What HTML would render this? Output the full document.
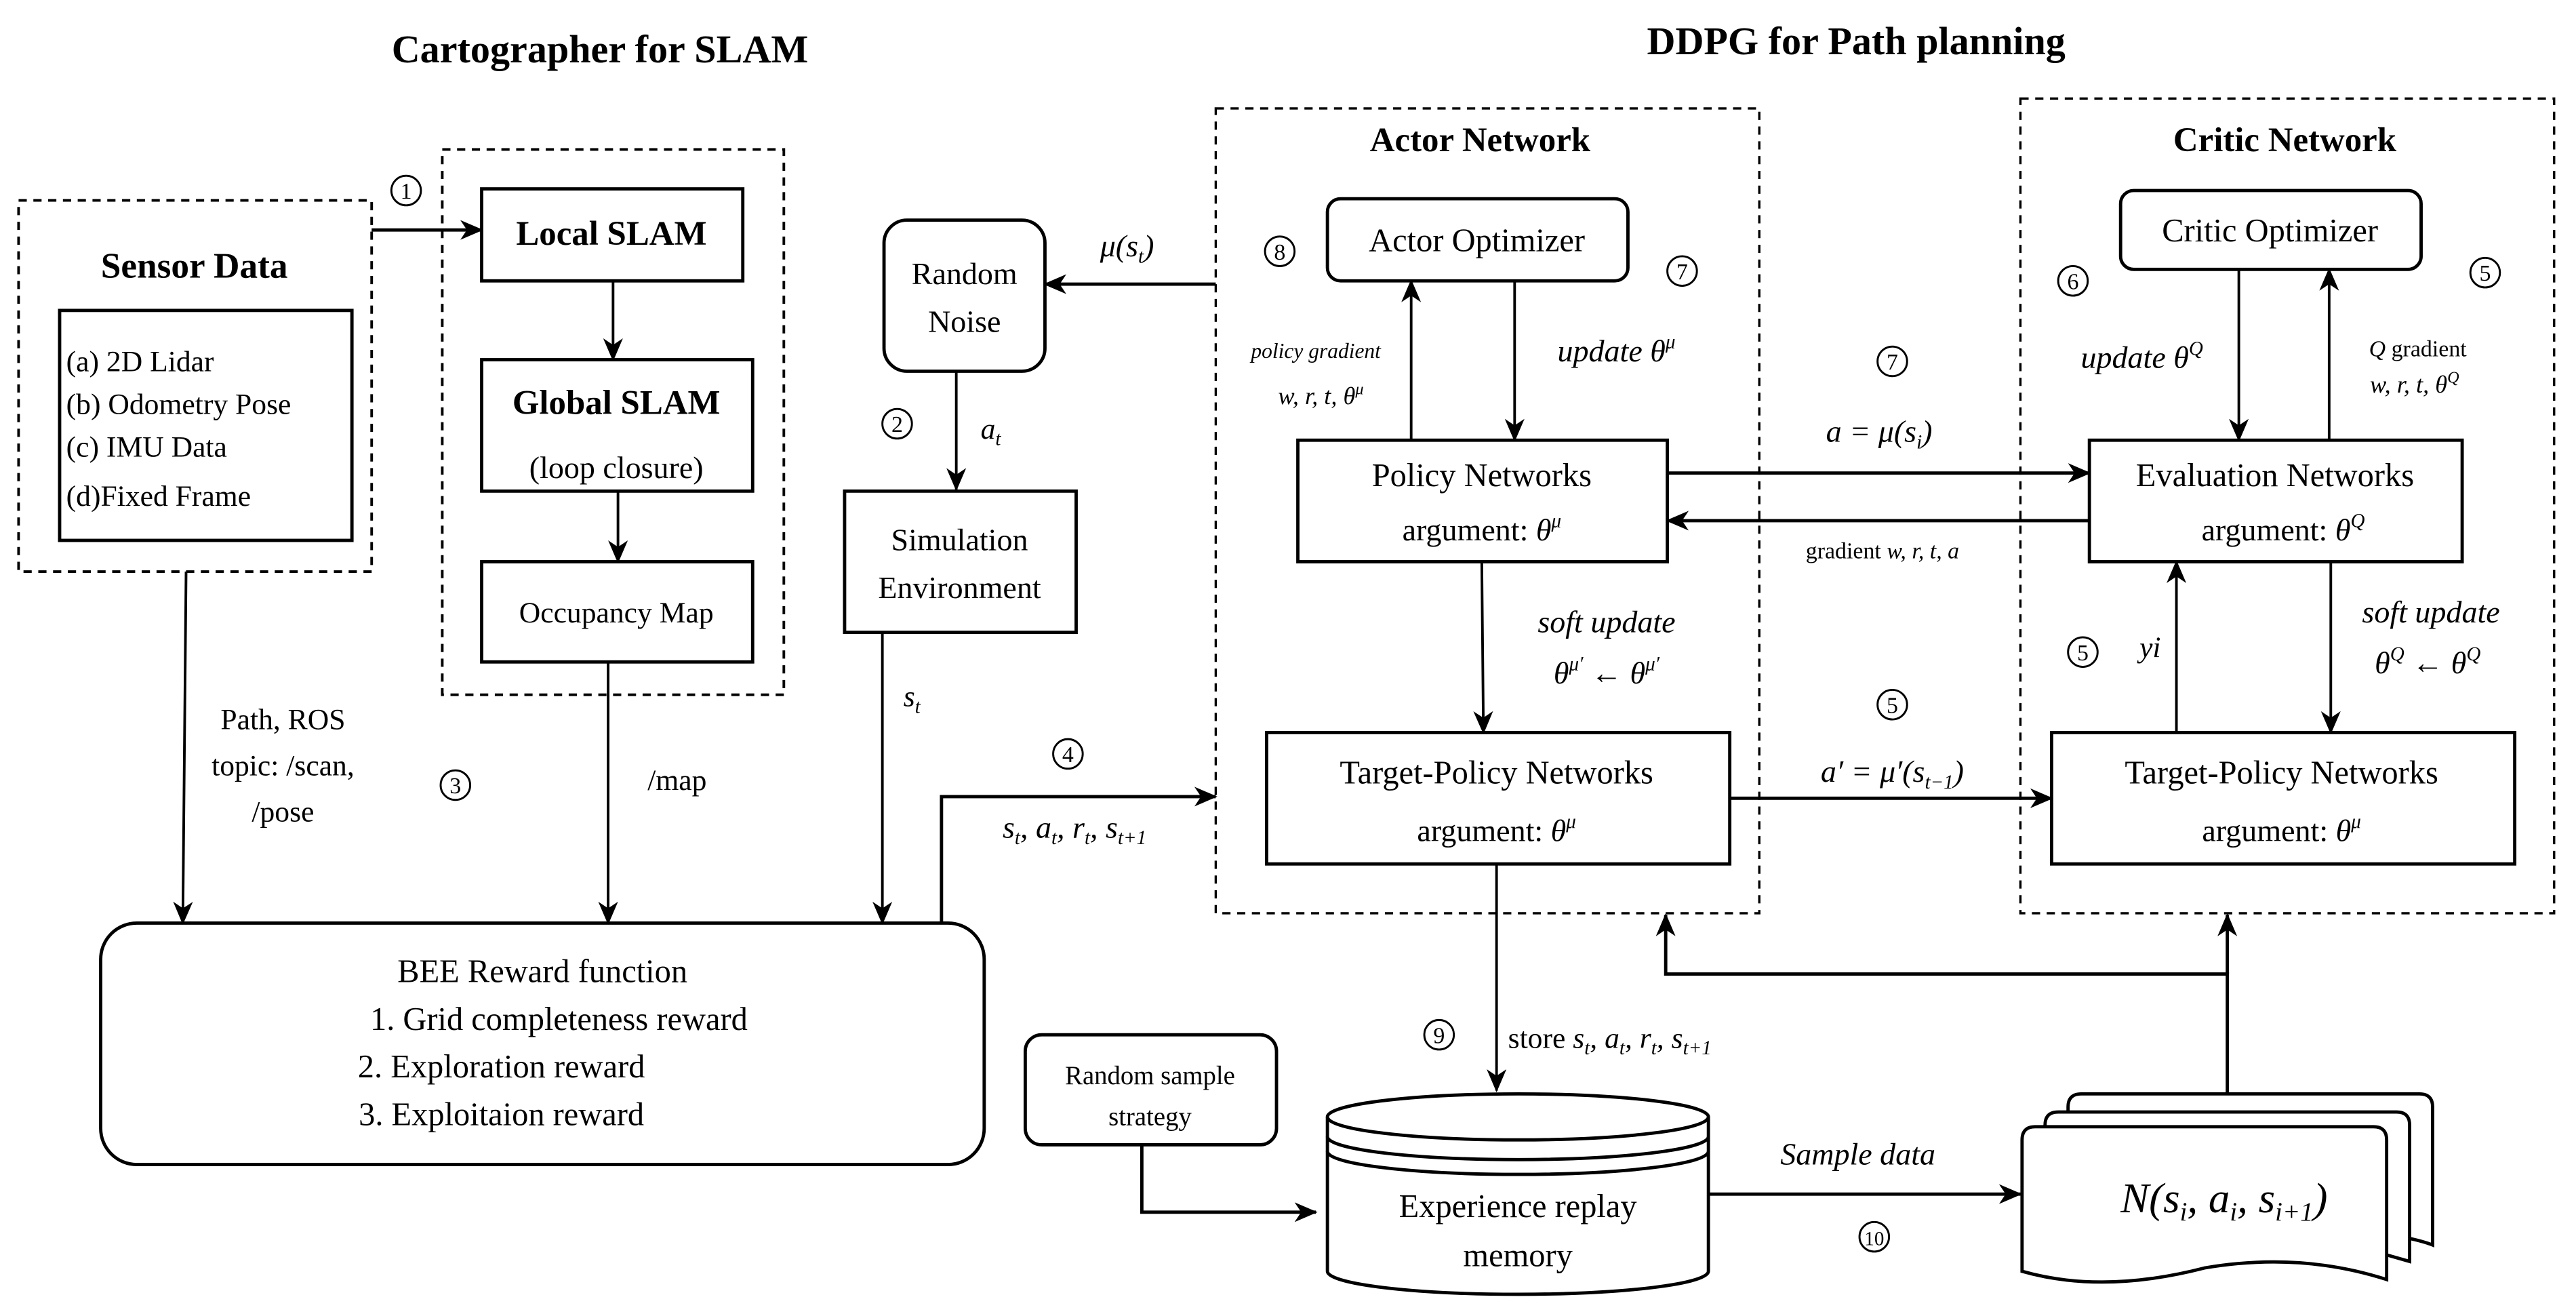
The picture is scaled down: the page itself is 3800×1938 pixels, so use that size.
<!DOCTYPE html>
<html><head><meta charset="utf-8"><style>
html,body{margin:0;padding:0;background:#fff}
svg{display:block}
svg, svg text, svg tspan{font-family:"Liberation Serif","DejaVu Serif",serif !important}
text{fill:#000}
.b{font-weight:bold}
.i{font-style:italic}
</style></head><body>
<svg width="3800" height="1938" viewBox="0 0 1568 800" xmlns="http://www.w3.org/2000/svg" font-family="Liberation Serif, serif">
<defs>
<marker id="ah" markerWidth="14" markerHeight="12" refX="13" refY="6" orient="auto" markerUnits="userSpaceOnUse">
<path d="M0,0 L14,6 L0,12 L4,6 z" fill="#000"/>
</marker>
</defs>
<rect width="1568" height="800" fill="#fff"/>
<g fill="none" stroke="#000">
<rect x="11" y="122" width="215" height="226" stroke-width="1.6" stroke-dasharray="5,4"/>
<rect x="269" y="91" width="208" height="332" stroke-width="1.6" stroke-dasharray="5,4"/>
<rect x="740" y="66" width="331" height="490" stroke-width="1.4" stroke-dasharray="5,4"/>
<rect x="1230" y="60" width="325" height="496" stroke-width="1.4" stroke-dasharray="5,4"/>
<rect x="36" y="189" width="178" height="140" stroke-width="2"/>
<rect x="293" y="115" width="159" height="56" stroke-width="2"/>
<rect x="293" y="219" width="165" height="80" stroke-width="2"/>
<rect x="293" y="342" width="165" height="61" stroke-width="2"/>
<rect x="538" y="134" width="98" height="92" rx="14" stroke-width="2"/>
<rect x="514" y="299" width="141" height="86" stroke-width="2"/>
<rect x="61" y="562" width="538" height="147" rx="22" stroke-width="2"/>
<rect x="624" y="630" width="153" height="67" rx="10" stroke-width="2"/>
<rect x="808" y="121" width="183" height="50" rx="8" stroke-width="2"/>
<rect x="790" y="268" width="225" height="74" stroke-width="2"/>
<rect x="771" y="446" width="282" height="80" stroke-width="2"/>
<rect x="1291" y="116" width="183" height="48" rx="8" stroke-width="2"/>
<rect x="1272" y="268" width="227" height="74" stroke-width="2"/>
<rect x="1249" y="446" width="282" height="80" stroke-width="2"/>
<path d="M808,680 L808,774 A116,14 0 0 0 1040,774 L1040,680" fill="#fff" stroke-width="2"/>
<ellipse cx="924" cy="680" rx="116" ry="14" fill="#fff" stroke-width="2"/>
<path d="M808,692 A116,14 0 0 0 1040,692 M808,701 A116,14 0 0 0 1040,701" stroke-width="2"/>
<path d="M1259,680 L1259,674 Q1259,666 1267,666 L1473,666 Q1481,666 1481,674 L1481,758 Q1476,756 1467,754" fill="#fff" stroke-width="2"/>
<path d="M1245,690 L1245,685 Q1245,677 1253,677 L1459,677 Q1467,677 1467,685 L1467,768 Q1460,766 1453,764" fill="#fff" stroke-width="2"/>
<path d="M1231,694 Q1231,686 1239,686 L1445,686 Q1453,686 1453,694 L1453,779 Q1400,762 1342,772 Q1280,788 1231,774 Z" fill="#fff" stroke-width="2"/>
<g stroke-width="1.6">
<line x1="226" y1="140" x2="293" y2="140" marker-end="url(#ah)" stroke-width="2"/>
<line x1="373" y1="171" x2="373" y2="219" marker-end="url(#ah)"/>
<line x1="376" y1="299" x2="376" y2="342" marker-end="url(#ah)"/>
<line x1="113" y1="348" x2="111" y2="562" marker-end="url(#ah)"/>
<line x1="370" y1="403" x2="370" y2="562" marker-end="url(#ah)"/>
<line x1="537" y1="385" x2="537" y2="562" marker-end="url(#ah)"/>
<line x1="740" y1="173" x2="636" y2="173" marker-end="url(#ah)" stroke-width="2"/>
<line x1="582" y1="226" x2="582" y2="298" marker-end="url(#ah)"/>
<polyline points="573,562 573,485 740,485" marker-end="url(#ah)" stroke-width="2"/>
<line x1="859" y1="268" x2="859" y2="171" marker-end="url(#ah)"/>
<line x1="922" y1="171" x2="922" y2="268" marker-end="url(#ah)"/>
<line x1="1015" y1="288" x2="1272" y2="288" marker-end="url(#ah)" stroke-width="2"/>
<line x1="1272" y1="317" x2="1015" y2="317" marker-end="url(#ah)" stroke-width="2"/>
<line x1="902" y1="342" x2="903" y2="446" marker-end="url(#ah)"/>
<line x1="1363" y1="164" x2="1363" y2="268" marker-end="url(#ah)"/>
<line x1="1418" y1="268" x2="1418" y2="164" marker-end="url(#ah)"/>
<line x1="1325" y1="446" x2="1325" y2="342" marker-end="url(#ah)"/>
<line x1="1419" y1="342" x2="1419" y2="446" marker-end="url(#ah)"/>
<line x1="1053" y1="486" x2="1249" y2="486" marker-end="url(#ah)" stroke-width="2"/>
<line x1="911" y1="526" x2="911" y2="664" marker-end="url(#ah)"/>
<polyline points="1356,666 1356,593 1014,593 1014,557" marker-end="url(#ah)" stroke-width="2"/>
<line x1="1356" y1="593" x2="1356" y2="557" marker-end="url(#ah)" stroke-width="2"/>
<polyline points="695,697 695,738 801,738" marker-end="url(#ah)" stroke-width="2"/>
<line x1="1040" y1="727" x2="1230" y2="727" marker-end="url(#ah)" stroke-width="2"/>
</g>
<g stroke-width="1.2">
<circle cx="247" cy="116" r="9"/><circle cx="546" cy="258" r="9"/><circle cx="277" cy="478" r="9"/>
<circle cx="650" cy="459" r="9"/><circle cx="779" cy="153" r="9"/><circle cx="1024" cy="165" r="9"/>
<circle cx="1152" cy="220" r="9"/><circle cx="1262" cy="171" r="9"/><circle cx="1513" cy="166" r="9"/>
<circle cx="1268" cy="397" r="9"/><circle cx="1152" cy="429" r="9"/><circle cx="876" cy="630" r="9"/>
<circle cx="1141" cy="753" r="9"/>
</g>
</g>
<g font-size="14" text-anchor="middle">
<text x="247" y="121">1</text><text x="546" y="263">2</text><text x="277" y="483">3</text>
<text x="650" y="464">4</text><text x="779" y="158">8</text><text x="1024" y="170">7</text>
<text x="1152" y="225">7</text><text x="1262" y="176">6</text><text x="1513" y="171">5</text>
<text x="1268" y="402">5</text><text x="1152" y="434">5</text><text x="876" y="635">9</text>
<text x="1141" y="758" font-size="12">10</text>
</g>
<text x="365" y="38" font-size="24" class="b" text-anchor="middle">Cartographer for SLAM</text>
<text x="1130" y="33" font-size="24" class="b" text-anchor="middle">DDPG for Path planning</text>
<text x="118" y="169" font-size="22" class="b" text-anchor="middle">Sensor Data</text>
<g font-size="18">
<text x="40" y="226">(a) 2D Lidar</text>
<text x="40" y="252">(b) Odometry Pose</text>
<text x="40" y="278">(c) IMU Data</text>
<text x="40" y="308">(d)Fixed Frame</text>
</g>
<text x="372" y="149" font-size="21" class="b" text-anchor="middle">Local SLAM</text>
<text x="375" y="252" font-size="21" class="b" text-anchor="middle">Global SLAM</text>
<text x="375" y="291" font-size="19" text-anchor="middle">(loop closure)</text>
<text x="375" y="379" font-size="18" text-anchor="middle">Occupancy Map</text>
<text x="587" y="173" font-size="19" text-anchor="middle">Random</text>
<text x="587" y="202" font-size="19" text-anchor="middle">Noise</text>
<text x="584" y="335" font-size="19" text-anchor="middle">Simulation</text>
<text x="584" y="364" font-size="19" text-anchor="middle">Environment</text>
<g font-size="18" text-anchor="middle">
<text x="172" y="444">Path, ROS</text>
<text x="172" y="472">topic: /scan,</text>
<text x="172" y="500">/pose</text>
<text x="412" y="481">/map</text>
</g>
<g font-size="20" text-anchor="middle">
<text x="330" y="598">BEE Reward function</text>
<text x="340" y="627">1. Grid completeness reward</text>
<text x="305" y="656">2. Exploration reward</text>
<text x="305" y="685">3. Exploitaion reward</text>
</g>
<text x="700" y="660" font-size="16" text-anchor="middle">Random sample</text>
<text x="700" y="685" font-size="16" text-anchor="middle">strategy</text>
<text x="901" y="92" font-size="21" class="b" text-anchor="middle">Actor Network</text>
<text x="1391" y="92" font-size="21" class="b" text-anchor="middle">Critic Network</text>
<text x="899" y="153" font-size="20" text-anchor="middle">Actor Optimizer</text>
<text x="1382" y="147" font-size="20" text-anchor="middle">Critic Optimizer</text>
<text x="902" y="296" font-size="20" text-anchor="middle">Policy Networks</text>
<text x="902" y="329" font-size="19" text-anchor="middle">argument: <tspan class="i">θ</tspan><tspan class="i" font-size="12" dy="-8">μ</tspan></text>
<text x="1385" y="296" font-size="20" text-anchor="middle">Evaluation Networks</text>
<text x="1390" y="329" font-size="19" text-anchor="middle">argument: <tspan class="i">θ</tspan><tspan class="i" font-size="12" dy="-8">Q</tspan></text>
<text x="911" y="477" font-size="20" text-anchor="middle">Target-Policy Networks</text>
<text x="911" y="512" font-size="19" text-anchor="middle">argument:  <tspan class="i">θ</tspan><tspan class="i" font-size="12" dy="-8">μ</tspan></text>
<text x="1389" y="477" font-size="20" text-anchor="middle">Target-Policy Networks</text>
<text x="1389" y="512" font-size="19" text-anchor="middle">argument:  <tspan class="i">θ</tspan><tspan class="i" font-size="12" dy="-8">μ</tspan></text>
<g class="i">
<text x="686" y="156" font-size="19" text-anchor="middle">μ(s<tspan font-size="12" dy="4">t</tspan><tspan dy="-4">)</tspan></text>
<text x="603" y="267" font-size="18" text-anchor="middle">a<tspan font-size="12" dy="4">t</tspan></text>
<text x="555" y="430" font-size="18" text-anchor="middle">s<tspan font-size="12" dy="4">t</tspan></text>
<text x="654" y="510" font-size="19" text-anchor="middle">s<tspan font-size="12" dy="4">t</tspan><tspan dy="-4">, a</tspan><tspan font-size="12" dy="4">t</tspan><tspan dy="-4">, r</tspan><tspan font-size="12" dy="4">t</tspan><tspan dy="-4">, s</tspan><tspan font-size="12" dy="4">t+1</tspan></text>
<text x="801" y="218" font-size="13" text-anchor="middle">policy gradient</text>
<text x="804" y="246" font-size="15" text-anchor="middle">w, r, t, θ<tspan font-size="10" dy="-6">μ</tspan></text>
<text x="984" y="220" font-size="19" text-anchor="middle">update  θ<tspan font-size="12" dy="-8">μ</tspan></text>
<text x="1304" y="224" font-size="19" text-anchor="middle">update  θ<tspan font-size="12" dy="-8">Q</tspan></text>
<text x="1472" y="217" font-size="14" text-anchor="middle">Q <tspan font-style="normal">gradient</tspan></text>
<text x="1470" y="239" font-size="15" text-anchor="middle">w, r, t, θ<tspan font-size="10" dy="-6">Q</tspan></text>
<text x="1144" y="269" font-size="19" text-anchor="middle">a = μ(s<tspan font-size="12" dy="4">i</tspan><tspan dy="-4">)</tspan></text>
<text x="1146" y="340" font-size="14" text-anchor="middle"><tspan font-style="normal">gradient</tspan>  w, r, t, a</text>
<text x="978" y="385" font-size="19" text-anchor="middle">soft update</text>
<text x="978" y="416" font-size="19" text-anchor="middle">θ<tspan font-size="12" dy="-8">μ′</tspan><tspan dy="8"> ← θ</tspan><tspan font-size="12" dy="-8">μ′</tspan></text>
<text x="1480" y="379" font-size="19" text-anchor="middle">soft update</text>
<text x="1478" y="410" font-size="19" text-anchor="middle">θ<tspan font-size="12" dy="-8">Q</tspan><tspan dy="8"> ← θ</tspan><tspan font-size="12" dy="-8">Q</tspan></text>
<text x="1309" y="400" font-size="18" text-anchor="middle">yi</text>
<text x="1152" y="476" font-size="19" text-anchor="middle">a′ = μ′(s<tspan font-size="12" dy="4">t−1</tspan><tspan dy="-4">)</tspan></text>
<text x="1131" y="709" font-size="19" text-anchor="middle">Sample data</text>
<text x="1354" y="738" font-size="26" text-anchor="middle">N(s<tspan font-size="16" dy="5">i</tspan><tspan dy="-5">, a</tspan><tspan font-size="16" dy="5">i</tspan><tspan dy="-5">, s</tspan><tspan font-size="16" dy="5">i+1</tspan><tspan dy="-5">)</tspan></text>
</g>
<text x="918" y="638" font-size="18">store <tspan class="i">s<tspan font-size="12" dy="4">t</tspan><tspan dy="-4">, a</tspan><tspan font-size="12" dy="4">t</tspan><tspan dy="-4">, r</tspan><tspan font-size="12" dy="4">t</tspan><tspan dy="-4">, s</tspan><tspan font-size="12" dy="4">t+1</tspan></tspan></text>
<text x="924" y="741" font-size="20" text-anchor="middle">Experience replay</text>
<text x="924" y="771" font-size="20" text-anchor="middle">memory</text>
</svg>
</body></html>
